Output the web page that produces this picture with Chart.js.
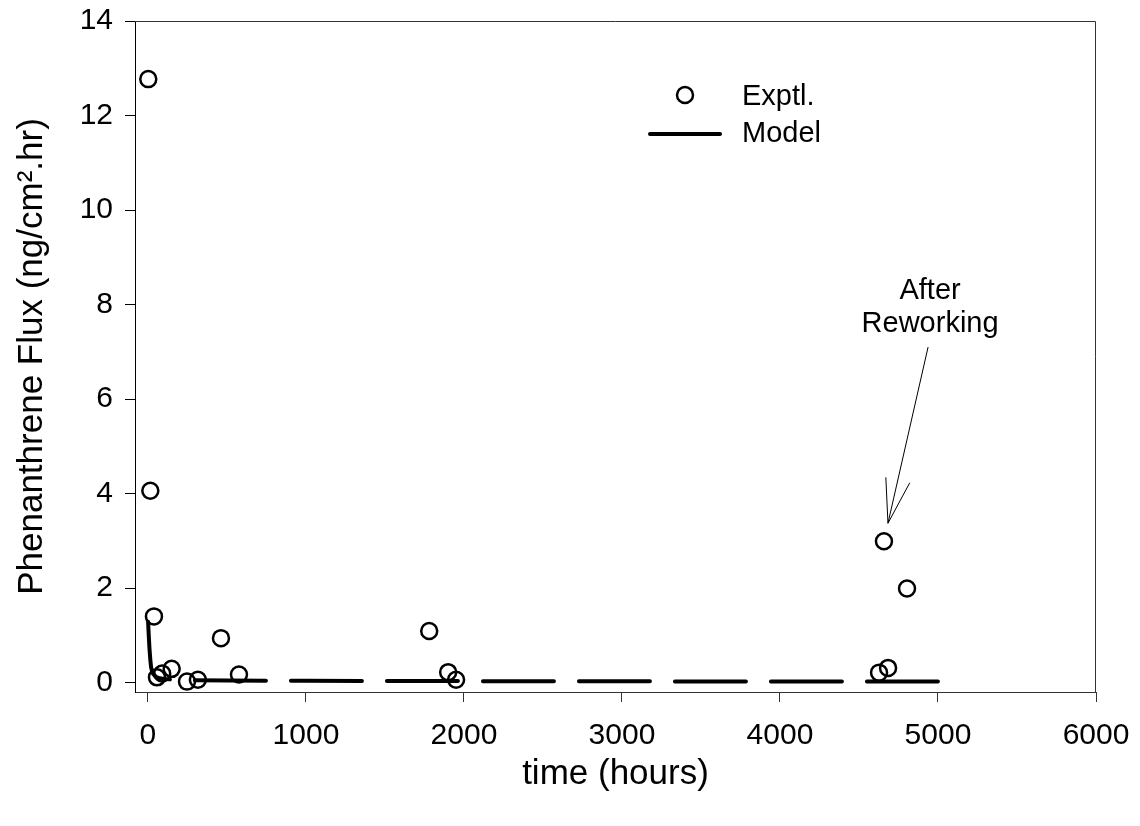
<!DOCTYPE html>
<html>
<head>
<meta charset="utf-8">
<script src="https://cdn.jsdelivr.net/npm/chart.js@4.4.1/dist/chart.umd.min.js"></script>
<style>
  html, body { margin: 0; padding: 0; background: #fff; }
  #wrap { width: 1140px; height: 826px; }
</style>
</head>
<body>
<div id="wrap"><canvas id="fluxChart" width="1140" height="826"></canvas></div>
<script>
// experimental points (time in hours, flux in ng/cm2.hr)
const exptTime = [2, 15, 38, 57, 90, 150, 247, 316, 462, 576, 1780, 1900, 1950, 4627, 4658, 4684, 4804];
const exptFlux = [12.77, 4.06, 1.40, 0.11, 0.19, 0.29, 0.02, 0.06, 0.94, 0.17, 1.09, 0.22, 0.06, 0.21, 2.99, 0.31, 1.99];

// model curve
const modelTime = [0, 5, 10, 15, 20, 30, 50, 75, 100, 150, 200, 300, 500, 750, 1000, 1500, 2000, 2500, 3000, 3500, 4000, 4500, 5000];
const modelFlux = [1.35, 1.0, 0.7, 0.48, 0.32, 0.2, 0.12, 0.09, 0.075, 0.065, 0.058, 0.05, 0.045, 0.04, 0.037, 0.033, 0.03, 0.028, 0.026, 0.024, 0.022, 0.021, 0.02];

const xTicks = [0, 1000, 2000, 3000, 4000, 5000, 6000];
const yTicks = [0, 2, 4, 6, 8, 10, 12, 14];

const FONT = '"Liberation Sans", Arial, sans-serif';

const framePlugin = {
    id: 'frame',
    afterDraw(chart) {
        const { ctx, chartArea: a, scales } = chart;
        ctx.save();
        // top and right edges of the box
        ctx.strokeStyle = '#333';
        ctx.lineWidth = 1;
        ctx.beginPath();
        ctx.moveTo(a.left, a.top + 0.5);
        ctx.lineTo(a.right - 0.5, a.top + 0.5);
        ctx.lineTo(a.right - 0.5, a.bottom);
        ctx.stroke();

        // legend
        const model = chart.data.datasets[0];
        const expt = chart.data.datasets[1];
        ctx.fillStyle = '#000';
        ctx.font = '29px ' + FONT;
        ctx.textBaseline = 'middle';
        ctx.textAlign = 'left';
        ctx.beginPath();
        ctx.arc(685, 95, 8, 0, Math.PI * 2);
        ctx.lineWidth = 2.5;
        ctx.strokeStyle = '#000';
        ctx.stroke();
        ctx.fillText(expt.label, 742, 97);
        ctx.beginPath();
        ctx.moveTo(650, 134);
        ctx.lineTo(720, 134);
        ctx.lineWidth = 4;
        ctx.lineCap = 'round';
        ctx.stroke();
        ctx.fillText(model.label, 742, 134);

        // annotation
        const x = scales.x, y = scales.y;
        const tx = x.getPixelForValue(4950);
        ctx.textAlign = 'center';
        ctx.fillText('After', tx, y.getPixelForValue(8.28));
        ctx.fillText('Reworking', tx, y.getPixelForValue(7.58));
        const px = x.getPixelForValue(exptTime[14]) + 4;
        const py = y.getPixelForValue(exptFlux[14]) - 18;
        const sx = tx - 2, sy = y.getPixelForValue(7.1);
        const ang = Math.atan2(sy - py, sx - px);
        ctx.lineWidth = 1;
        ctx.lineCap = 'butt';
        ctx.beginPath();
        ctx.moveTo(sx, sy);
        ctx.lineTo(px, py);
        ctx.moveTo(px + 46 * Math.cos(ang - 0.27), py + 46 * Math.sin(ang - 0.27));
        ctx.lineTo(px, py);
        ctx.lineTo(px + 46 * Math.cos(ang + 0.27), py + 46 * Math.sin(ang + 0.27));
        ctx.stroke();
        ctx.restore();
    }
};

new Chart(document.getElementById('fluxChart'), {
    type: 'scatter',
    data: {
        datasets: [
            {
                label: 'Model',
                data: modelTime.map((t, i) => ({ x: t, y: modelFlux[i] })),
                showLine: true,
                borderColor: '#000',
                borderWidth: 4,
                borderDash: [71, 25],
                borderDashOffset: -3,
                borderCapStyle: 'round',
                borderJoinStyle: 'round',
                pointRadius: 0,
                fill: false,
            },
            {
                label: 'Exptl.',
                data: exptTime.map((t, i) => ({ x: t, y: exptFlux[i] })),
                pointStyle: 'circle',
                pointRadius: 8,
                borderWidth: 2.5,
                borderColor: '#000',
                backgroundColor: 'rgba(0,0,0,0)',
            },
        ],
    },
    options: {
        responsive: false,
        animation: false,
        layout: { padding: { top: 21, right: 44, left: 0, bottom: 0 } },
        plugins: { legend: { display: false }, tooltip: { enabled: false } },
        scales: {
            x: {
                type: 'linear',
                min: -82,
                max: 6000,
                afterBuildTicks: (s) => { s.ticks = xTicks.map(v => ({ value: v })); },
                afterFit: (s) => { s.height = 134; s.paddingLeft = 0; s.paddingRight = 0; },
                grid: { drawOnChartArea: false, drawTicks: true, tickLength: 10, tickColor: '#333' },
                border: { color: '#333', width: 1 },
                ticks: { color: '#000', font: { family: FONT, size: 30 }, padding: 16, maxRotation: 0, callback: (v) => String(v) },
                title: { display: true, text: 'time (hours)', color: '#000', font: { family: FONT, size: 35 }, padding: { top: 0, bottom: 31 } },
            },
            y: {
                type: 'linear',
                min: -0.2,
                max: 14,
                afterBuildTicks: (s) => { s.ticks = yTicks.map(v => ({ value: v })); },
                afterFit: (s) => { s.width = 135; s.paddingTop = 0; s.paddingBottom = 0; },
                grid: { drawOnChartArea: false, drawTicks: true, tickLength: 10, tickColor: '#000' },
                border: { color: '#000', width: 1 },
                ticks: { color: '#000', font: { family: FONT, size: 30 }, padding: 12, callback: (v) => String(v) },
                title: { display: true, text: 'Phenanthrene Flux (ng/cm\u00b2.hr)', color: '#000', font: { family: FONT, size: 35 }, padding: { top: 11, bottom: 0 } },
            },
        },
    },
    plugins: [framePlugin],
});
</script>
</body>
</html>
